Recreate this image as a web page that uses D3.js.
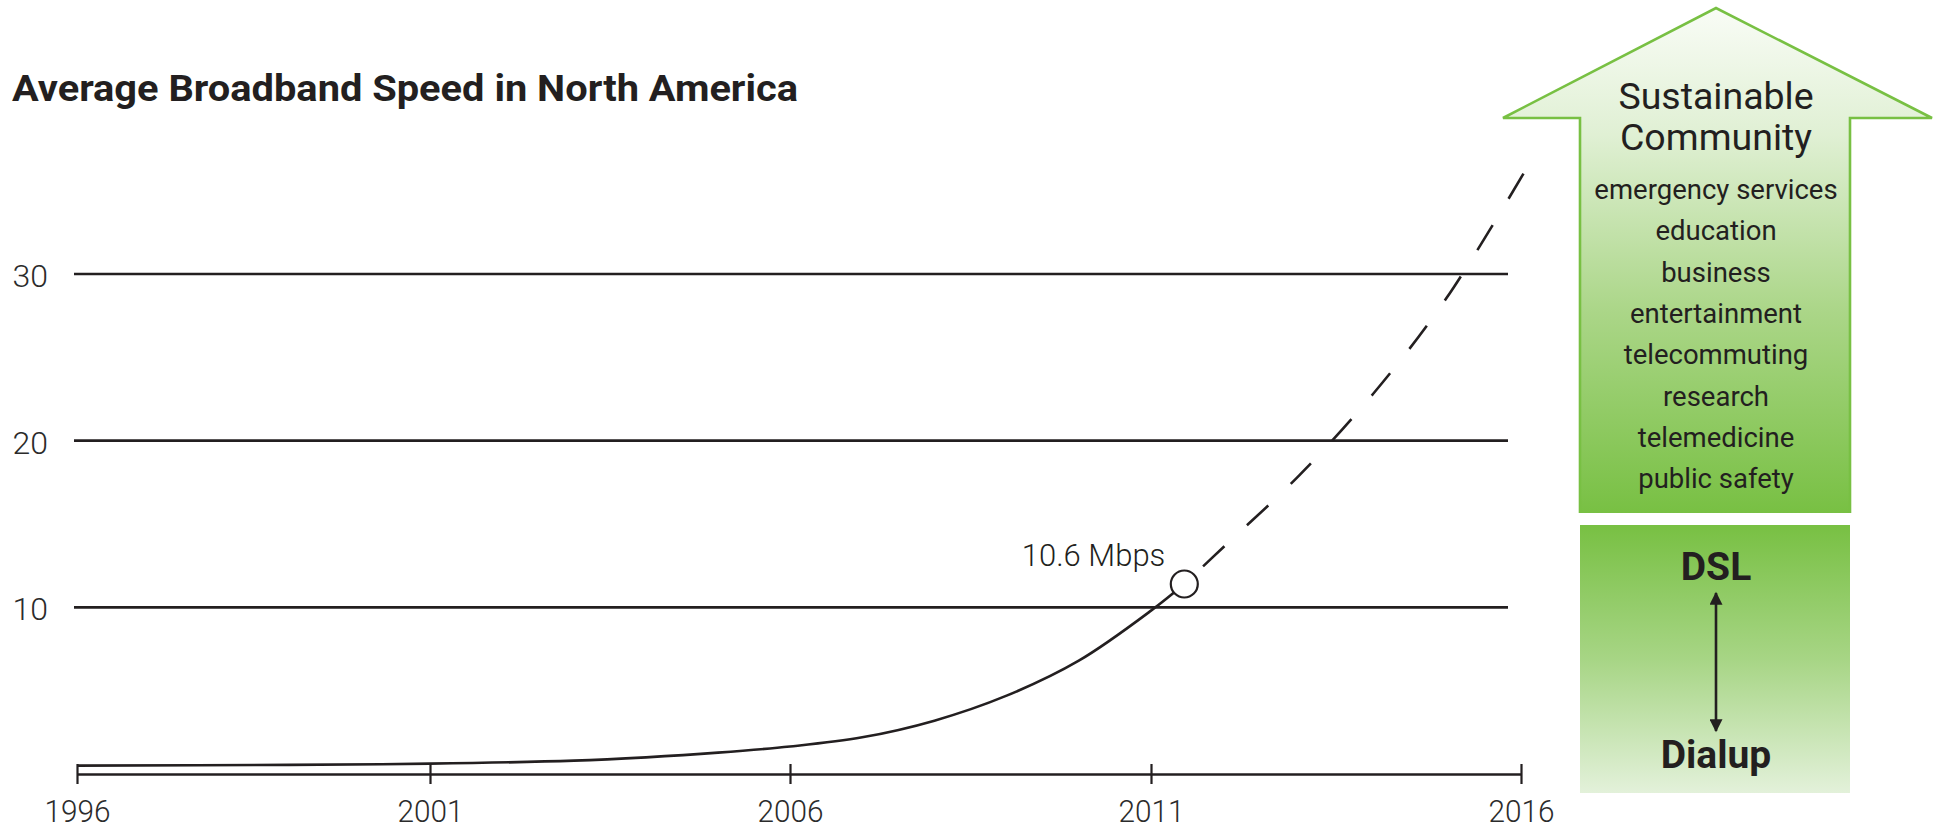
<!DOCTYPE html>
<html>
<head>
<meta charset="utf-8">
<script src="https://cdn.jsdelivr.net/npm/d3@7"></script>
<style>
  body { margin: 0; background: #fff; }
</style>
</head>
<body>
<svg id="svgx"></svg>
<script>
// ---------------- data
const chartTitle = "Average Broadband Speed in North America"
const xTicks = [1996, 2001, 2006, 2011, 2016]
const yTicks = [10, 20, 30]

// measured speeds (solid line)
const actualYears = [1996, 1999, 2001, 2003, 2004, 2005, 2006, 2007, 2008, 2009, 2010, 2011, 2011.45]
const actualSpeeds = [0.5, 0.55, 0.62, 0.8, 1.0, 1.28, 1.65, 2.2, 3.2, 4.7, 6.8, 9.8, 11.4]

// projection (dashed line)
const projYears = [2011.45, 2012, 2013, 2014, 2015, 2016.19]
const projSpeeds = [11.4, 13.7, 17.9, 22.8, 28.6, 37.2]

// marked point
const markYear = 2011.45
const markSpeed = 11.4
const markLabel = "10.6 Mbps"

// right hand graphic
const arrowTitle = ["Sustainable", "Community"]
const communityItems = ["emergency services", "education", "business", "entertainment",
  "telecommuting", "research", "telemedicine", "public safety"]
const techLabels = ["DSL", "Dialup"]

// ---------------- layout
var widthA = 1941;
var heightA = 831;
var ink = "#231f20";
var green = "#78c043";
var font = "Roboto, 'Liberation Sans', sans-serif";

var svg = d3.select('#svgx')
  .attr("width", widthA)
  .attr("height", heightA)

// the printed axis is not quite evenly spaced, so map each labelled year
var xScale = d3.scaleLinear().domain(xTicks).range([77, 430, 790, 1151, 1521])
var yScale = d3.scaleLinear().domain([0, 30]).range([774, 274])

const gridLeft = 74, gridRight = 1508;

//************************************ title
svg.append("text")
  .attr("x", 12)
  .attr("y", 101)
  .text(chartTitle)
  .attr("textLength", 786)
  .attr("lengthAdjust", "spacingAndGlyphs")
  .style("font-family", font)
  .style("font-weight", 700)
  .style("font-size", "36px")
  .style("fill", ink)

//************************************ gridlines + y labels
svg.selectAll(".grid").data(yTicks)
  .enter()
  .append("line")
  .attr("class", "grid")
  .attr("x1", gridLeft)
  .attr("x2", gridRight)
  .attr("y1", d => yScale(d))
  .attr("y2", d => yScale(d))
  .attr("stroke", ink)
  .attr("stroke-width", 2.6)

svg.selectAll(".ylab").data(yTicks)
  .enter()
  .append("text")
  .attr("class", "ylab")
  .attr("x", 48)
  .attr("y", d => yScale(d) + 13)
  .attr("text-anchor", "end")
  .text(d => d)
  .style("font-family", font)
  .style("font-weight", 300)
  .style("font-size", "32px")
  .style("fill", "#2b2b2b")

//************************************ x axis
const xAxis = d3.axisBottom(xScale)
  .tickValues(xTicks)
  .tickFormat(d3.format("d"))
  .tickSizeInner(0)
  .tickSizeOuter(0)
  .tickPadding(0)

const xAxisG = svg.append("g")
  .attr("class", "xaxis")
  .attr("transform", `translate(0,${yScale(0)})`)
  .call(xAxis)

xAxisG.select(".domain")
  .attr("stroke", ink)
  .attr("stroke-width", 2.6)

xAxisG.selectAll(".tick line")
  .attr("y1", -10)
  .attr("y2", 10)
  .attr("stroke", ink)
  .attr("stroke-width", 2.2)

xAxisG.selectAll(".tick text")
  .attr("y", 48)
  .attr("dy", 0)
  .attr("textLength", 66)
  .attr("lengthAdjust", "spacingAndGlyphs")
  .style("font-family", font)
  .style("font-weight", 300)
  .style("font-size", "32px")
  .style("fill", "#2b2b2b")

//************************************ lines
const actual = actualYears.map((y, i) => ({ year: y, value: actualSpeeds[i] }))
const proj = projYears.map((y, i) => ({ year: y, value: projSpeeds[i] }))

const lineGen = d3.line()
  .x(d => xScale(d.year))
  .y(d => yScale(d.value))
  .curve(d3.curveCatmullRom.alpha(0.5))

svg.append("path")
  .attr("d", lineGen(actual))
  .attr("fill", "none")
  .attr("stroke", ink)
  .attr("stroke-width", 2.6)

svg.append("path")
  .attr("d", lineGen(proj))
  .attr("fill", "none")
  .attr("stroke", ink)
  .attr("stroke-width", 2.6)
  .attr("stroke-dasharray", "29 31")
  .attr("stroke-dashoffset", 34)

// marker + label
var cx = xScale(markYear), cy = yScale(markSpeed);
svg.append("circle")
  .attr("cx", cx)
  .attr("cy", cy)
  .attr("r", 13.5)
  .attr("fill", "#fff")
  .attr("stroke", ink)
  .attr("stroke-width", 2.2)

svg.append("text")
  .attr("x", cx - 19)
  .attr("y", cy - 18)
  .attr("text-anchor", "end")
  .text(markLabel)
  .style("font-family", font)
  .style("font-weight", 300)
  .style("font-size", "31px")
  .style("fill", ink)

//************************************ right graphic
var defs = svg.append("defs")

var g1 = defs.append("linearGradient")
  .attr("id", "arrowGrad")
  .attr("gradientUnits", "userSpaceOnUse")
  .attr("x1", 0).attr("y1", 8).attr("x2", 0).attr("y2", 513)
g1.selectAll("stop").data([[0, "#f9fcf6"], [0.25, "#e0f0d4"], [0.6, "#abd688"], [1, green]])
  .enter().append("stop")
  .attr("offset", d => d[0])
  .attr("stop-color", d => d[1])

var g2 = defs.append("linearGradient")
  .attr("id", "boxGrad")
  .attr("gradientUnits", "userSpaceOnUse")
  .attr("x1", 0).attr("y1", 525).attr("x2", 0).attr("y2", 793)
g2.selectAll("stop").data([[0, green], [0.5, "#a7d585"], [1, "#e3f1da"]])
  .enter().append("stop")
  .attr("offset", d => d[0])
  .attr("stop-color", d => d[1])

const shaftL = 1580, shaftR = 1850, headL = 1503, headR = 1932;
const tipX = 1716, tipY = 8, headY = 118, shaftB = 513;

var arrowPts = [[shaftL, shaftB], [shaftL, headY], [headL, headY], [tipX, tipY],
  [headR, headY], [shaftR, headY], [shaftR, shaftB]]

svg.append("path")
  .attr("d", d3.line()(arrowPts) + "Z")
  .attr("fill", "url(#arrowGrad)")

svg.append("path")
  .attr("d", d3.line()(arrowPts))
  .attr("fill", "none")
  .attr("stroke", green)
  .attr("stroke-width", 2.6)
  .attr("stroke-linejoin", "miter")

svg.selectAll(".atitle").data(arrowTitle)
  .enter()
  .append("text")
  .attr("class", "atitle")
  .attr("x", tipX)
  .attr("y", (d, i) => 109 + i * 41)
  .attr("text-anchor", "middle")
  .text(d => d)
  .style("font-family", font)
  .style("font-size", "37.5px")
  .style("fill", ink)

svg.selectAll(".item").data(communityItems)
  .enter()
  .append("text")
  .attr("class", "item")
  .attr("x", tipX)
  .attr("y", (d, i) => 199 + i * 41.3)
  .attr("text-anchor", "middle")
  .text(d => d)
  .style("font-family", font)
  .style("font-size", "27.5px")
  .style("fill", ink)

// lower box
svg.append("rect")
  .attr("x", shaftL)
  .attr("y", 525)
  .attr("width", shaftR - shaftL)
  .attr("height", 793 - 525)
  .attr("fill", "url(#boxGrad)")

svg.selectAll(".tech").data(techLabels)
  .enter()
  .append("text")
  .attr("class", "tech")
  .attr("x", tipX)
  .attr("y", (d, i) => i === 0 ? 580 : 768)
  .attr("text-anchor", "middle")
  .text(d => d)
  .style("font-family", font)
  .style("font-weight", 700)
  .style("font-size", "39px")
  .style("fill", ink)

// double headed arrow
defs.append("marker")
  .attr("id", "head")
  .attr("viewBox", "0 0 10 10")
  .attr("refX", 9)
  .attr("refY", 5)
  .attr("markerWidth", 16)
  .attr("markerHeight", 13)
  .attr("markerUnits", "userSpaceOnUse")
  .attr("orient", "auto-start-reverse")
  .append("path")
  .attr("d", "M0,0 L10,5 L0,10 Z")
  .attr("fill", ink)

svg.append("line")
  .attr("x1", tipX)
  .attr("x2", tipX)
  .attr("y1", 593)
  .attr("y2", 731)
  .attr("stroke", ink)
  .attr("stroke-width", 2.6)
  .attr("marker-start", "url(#head)")
  .attr("marker-end", "url(#head)")
</script>
</body>
</html>
